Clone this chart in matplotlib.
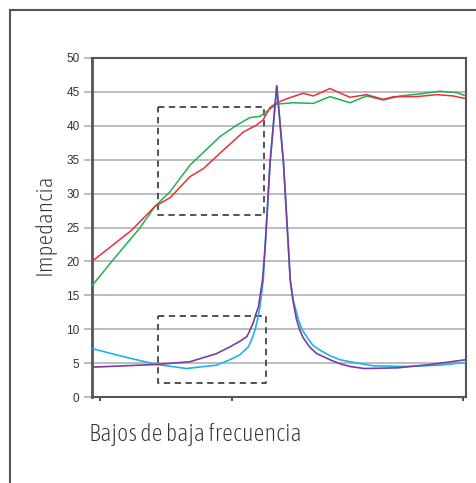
import matplotlib
matplotlib.use("Agg")
import matplotlib.pyplot as plt
from matplotlib import font_manager
from matplotlib.font_manager import FontProperties
from matplotlib.lines import Line2D

# ---- data ----
green_x = [0, 5.3, 12.9, 16.8, 20.9, 26.2, 34.2, 38.7, 42.2, 44.9, 46.7, 49.4, 53.8, 59.2, 63.6, 69.0, 73.4, 77.9, 82.4, 87.7, 93.0, 97.5, 100]
green_y = [16.4, 20.0, 25.0, 28.1, 30.3, 34.2, 38.4, 40.1, 41.2, 41.4, 42.1, 43.2, 43.4, 43.3, 44.3, 43.4, 44.4, 43.8, 44.4, 44.7, 45.1, 44.9, 44.4]

red_x = [0, 10.6, 16.8, 20.9, 26.2, 29.8, 35.1, 40.5, 44.0, 45.8, 47.6, 49.4, 52.1, 56.5, 59.2, 63.6, 69.0, 73.4, 77.9, 80.6, 86.8, 92.2, 96.6, 100]
red_y = [20.0, 24.6, 28.1, 29.4, 32.5, 33.7, 36.4, 39.1, 40.1, 40.9, 42.7, 43.4, 44.0, 44.8, 44.4, 45.5, 44.2, 44.6, 43.9, 44.3, 44.3, 44.6, 44.4, 44.0]

blue_x = [0, 8.4, 17.3, 25.3, 33.3, 36.9, 39.5, 41.8, 42.8, 43.6, 44.4, 44.9, 45.8, 46.3, 47.6, 49.4, 51.2, 52.5, 53.0, 53.8, 55.2, 56.2, 57.4, 59.1, 61.0, 63.6, 66.3, 69.0, 75.2, 84.1, 93.0, 100]
blue_y = [7.15, 5.95, 4.8, 4.2, 4.7, 5.5, 6.2, 7.4, 8.6, 9.9, 11.8, 13.3, 17.3, 22.2, 34.5, 45.9, 34.5, 22.2, 17.3, 14.3, 11.4, 9.9, 8.9, 7.6, 6.9, 6.1, 5.5, 5.2, 4.6, 4.5, 4.7, 5.1]

purple_x = [0, 17.3, 26.2, 33.3, 36.9, 39.5, 41.4, 42.2, 43.1, 43.8, 44.5, 45.6, 46.3, 47.6, 49.4, 51.2, 52.5, 53.0, 53.7, 54.7, 55.6, 56.5, 58.3, 60.1, 63.6, 66.3, 69.0, 72.8, 81.7, 90.6, 100]
purple_y = [4.4, 4.8, 5.2, 6.4, 7.4, 8.2, 8.9, 9.8, 10.9, 12.2, 13.3, 17.3, 22.2, 34.5, 45.9, 34.5, 22.2, 17.3, 14.3, 11.4, 9.8, 8.7, 7.3, 6.4, 5.5, 4.9, 4.5, 4.2, 4.3, 4.8, 5.5]

box_upper = (17.6, 46.1, 26.9, 42.7)   # x0, x1, y0, y1
box_lower = (17.6, 46.4, 2.06, 12.0)

y_ticks = [0, 5, 10, 15, 20, 25, 30, 35, 40, 45, 50]
x_ticks = [2.1, 37.4, 99.2]

ylabel = "Impedancia"
xlabel = "Bajos de baja frecuencia"

# ---- fonts ----
def find_condensed():
    cands = []
    for f in font_manager.fontManager.ttflist:
        fn = f.fname.lower()
        nm = f.name.lower()
        cond = ("condensed" in fn or "narrow" in fn or "condensed" in nm or "narrow" in nm
                or str(f.stretch).lower() in ("condensed", "semi-condensed", "extra-condensed"))
        if not cond:
            continue
        if any(k in fn for k in ("bold", "italic", "oblique", "black", "mono")):
            continue
        score = 0
        if "light" in fn:
            score -= 2
        if "regular" in fn or fn.endswith("condensed.ttf"):
            score -= 1
        cands.append((score, f.fname))
    cands.sort()
    return cands[0][1] if cands else None

cpath = find_condensed()
if cpath:
    xlabel_fp = FontProperties(fname=cpath, size=17.4)
    ylabel_fp = FontProperties(fname=cpath, size=16.6)
else:
    xlabel_fp = FontProperties(family="Roboto", weight="light", size=13.5)
    ylabel_fp = FontProperties(family="Roboto", weight="light", size=13.5)

names = {f.name for f in font_manager.fontManager.ttflist}
tick_font = "Liberation Sans" if "Liberation Sans" in names else "DejaVu Sans"

fig = plt.figure(figsize=(4.77, 4.83), dpi=100)
ax = fig.add_axes([92/477, 86/483, (466-92)/477, (397-58)/483])

grid_c = "#b4b8bc"
for v in y_ticks[1:-1]:
    ax.axhline(v, color=grid_c, lw=1.3, zorder=1)

ax.plot(green_x, green_y, color="#22b14c", lw=1.1, zorder=3)
ax.plot(red_x, red_y, color="#ee2f3a", lw=1.1, zorder=3)
ax.plot(blue_x, blue_y, color="#1cb3ec", lw=1.2, zorder=3)
ax.plot(purple_x, purple_y, color="#7d3c9c", lw=1.2, zorder=4)

for (x0, x1, y0, y1) in (box_upper, box_lower):
    ax.plot([x0, x1, x1, x0, x0], [y1, y1, y0, y0, y1], color="#444444",
            lw=1.3, ls=(0, (3.5, 2.5)), zorder=2)

ax.set_xlim(0, 100)
ax.set_ylim(0, 50)
ax.set_yticks(y_ticks)
ax.set_yticklabels([str(v) for v in y_ticks], fontname=tick_font, fontsize=8.5, color="#333333")
ax.set_xticks(x_ticks)
ax.set_xticklabels([])
ax.tick_params(axis="y", length=6, width=1.3, color=grid_c, pad=3)
ax.tick_params(axis="x", length=3, width=1.3, color="#444444")

for s in ax.spines.values():
    s.set_color("#555555")
    s.set_linewidth(1.5)
ax.spines["left"].set_linewidth(2)

fig.text(44.7/477, 1 - 224/483, ylabel, rotation=90, ha="center", va="center",
         fontproperties=ylabel_fp, color="#333333")
fig.text(89/477, 1 - 434/483, xlabel, ha="left", va="center",
         fontproperties=xlabel_fp, color="#333333")

# outer frame
fig.add_artist(Line2D([10/477, 1.0], [1 - 10/483, 1 - 10/483], transform=fig.transFigure,
                      color="#555555", lw=1.5))
fig.add_artist(Line2D([10/477, 10/477], [0.0, 1 - 10/483], transform=fig.transFigure,
                      color="#555555", lw=1.5))

fig.savefig("out.png", dpi=100)
